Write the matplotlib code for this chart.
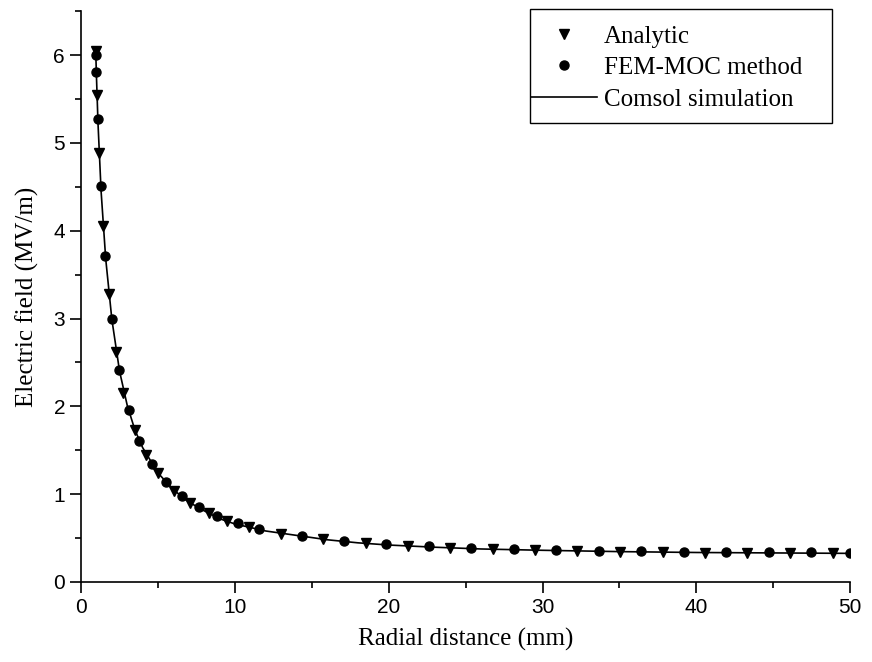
import matplotlib.pyplot as plt
from matplotlib.patches import Rectangle
from matplotlib.ticker import MultipleLocator

# values
analytic_r = [0.95, 1.04, 1.17, 1.43, 1.80, 2.28, 2.73, 3.49, 4.23, 4.98, 6.03, 7.07,
              8.30, 9.47, 10.92, 13.0, 15.71, 18.51, 21.22, 23.97, 26.77, 29.52, 32.25,
              35.05, 37.80, 40.55, 43.32, 46.10, 48.85]
analytic_e = [6.05, 5.55, 4.88, 4.05, 3.28, 2.62, 2.15, 1.73, 1.44, 1.24, 1.04, 0.894,
              0.780, 0.692, 0.620, 0.547, 0.483, 0.438, 0.407, 0.384, 0.373, 0.361, 0.347,
              0.339, 0.339, 0.331, 0.327, 0.327, 0.324]

fem_r = [0.97, 0.98, 1.08, 1.28, 1.58, 2.00, 2.49, 3.10, 3.79, 4.62, 5.53, 6.55, 7.67,
         8.86, 10.19, 11.57, 14.39, 17.08, 19.85, 22.63, 25.38, 28.15, 30.88, 33.68,
         36.41, 39.19, 41.94, 44.71, 47.46, 50.0]
fem_e = [6.00, 5.81, 5.27, 4.51, 3.71, 2.99, 2.41, 1.96, 1.61, 1.34, 1.14, 0.977, 0.848,
         0.749, 0.673, 0.597, 0.525, 0.468, 0.433, 0.404, 0.384, 0.373, 0.361, 0.354,
         0.350, 0.342, 0.339, 0.335, 0.335, 0.33]

comsol_r = [0.95, 1.0, 1.1, 1.3, 1.6, 2.0, 2.5, 3.0, 3.5, 4.0, 5.0, 6.0, 7.0, 8.0, 9.0,
            10.0, 12.0, 14.0, 16.0, 18.0, 20.0, 23.0, 26.0, 30.0, 35.0, 40.0, 45.0, 50.0]
comsol_e = [6.05, 5.75, 5.22, 4.45, 3.68, 2.99, 2.40, 2.01, 1.73, 1.53, 1.24, 1.05, 0.91,
            0.81, 0.72, 0.66, 0.58, 0.53, 0.48, 0.445, 0.42, 0.395, 0.375, 0.36, 0.345,
            0.335, 0.33, 0.325]

plt.rcParams['font.family'] = ['Liberation Serif', 'DejaVu Serif']

W, H = 872, 662
fig = plt.figure(figsize=(W / 100, H / 100), dpi=100)
ax = fig.add_axes([0.093, 0.121, 0.882, 0.862])

ax.plot(comsol_r, comsol_e, '-', color='black', lw=1.2, label='Comsol simulation', zorder=2)
ax.plot(analytic_r, analytic_e, 'v', color='black', ms=7, ls='none', label='Analytic', zorder=3)
ax.plot(fem_r, fem_e, 'o', color='black', ms=6.5, ls='none', label='FEM-MOC method', zorder=3)

ax.set_xlim(0, 50)
ax.set_ylim(0, 6.5)
ax.xaxis.set_major_locator(MultipleLocator(10))
ax.xaxis.set_minor_locator(MultipleLocator(5))
ax.yaxis.set_major_locator(MultipleLocator(1))
ax.yaxis.set_minor_locator(MultipleLocator(0.5))

for s in ['top', 'right']:
    ax.spines[s].set_visible(False)
for s in ['left', 'bottom']:
    ax.spines[s].set_linewidth(1.2)

ax.tick_params(which='major', direction='out', length=8, width=1.2)
ax.tick_params(which='minor', direction='out', length=4.5, width=1.2)
for lab in ax.get_xticklabels() + ax.get_yticklabels():
    lab.set_family(['Liberation Sans', 'DejaVu Sans'])
    lab.set_fontsize(15)

ax.set_xlabel('Radial distance (mm)', fontsize=18, labelpad=8)
ax.set_ylabel('Electric field (MV/m)', fontsize=18, labelpad=10)

# legend entries without frame, box drawn separately
h, l = ax.get_legend_handles_labels()
order = [1, 2, 0]
leg = ax.legend([h[i] for i in order], [l[i] for i in order], loc='upper left',
                bbox_to_anchor=(531 / W, 1 - 25 / H), bbox_transform=fig.transFigure,
                fontsize=18, frameon=False, borderpad=0, borderaxespad=0,
                labelspacing=0.36, handlelength=2.64, handletextpad=0.28)
fig.add_artist(Rectangle((530 / W, 1 - 123 / H), 302 / W, 114 / H,
                         transform=fig.transFigure, fill=False, lw=1.0, ec='black'))

fig.savefig('out.png', dpi=100)
